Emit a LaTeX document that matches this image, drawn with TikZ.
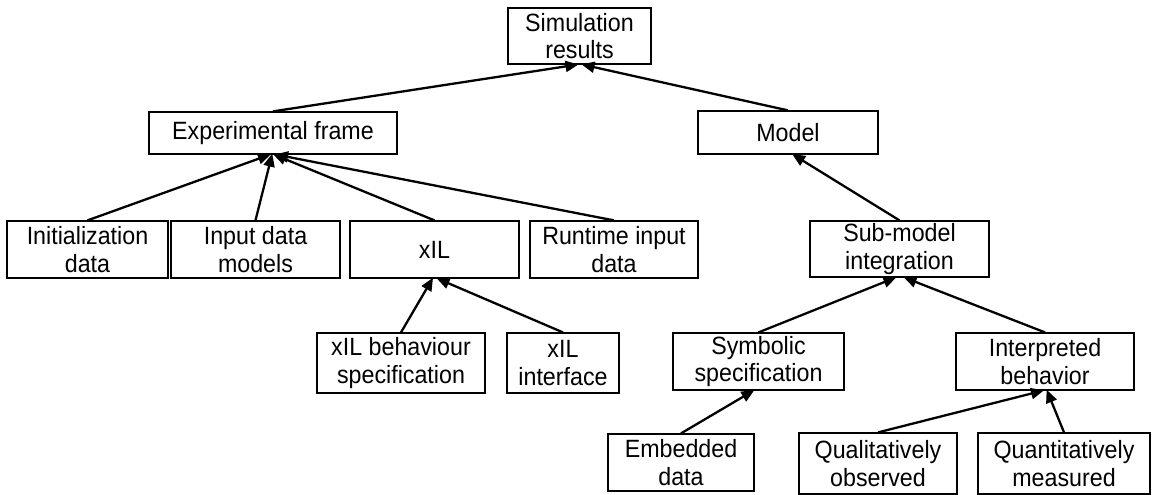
\documentclass[tikz,border=0pt]{standalone}
\usepackage{fontspec}
\setmainfont{Liberation Sans}[FakeStretch=0.93]
\usetikzlibrary{arrows.meta}
\tikzset{
  box/.style={draw=black, line width=1.2pt, inner sep=0pt, align=center,
    font=\fontsize{25}{27.5}\selectfont, anchor=center},
  arr/.style={draw=black, line width=2.3pt, -{Triangle[length=13pt,width=11pt]}, shorten >=-1pt}
}
\begin{document}
\begin{tikzpicture}[x=1pt,y=-1pt]
\useasboundingbox (0,0) rectangle (1154,495);
% level 0
\node[box, minimum width=143pt, minimum height=56pt] (sim) at (579.5,36) {Simulation\\results};
% level 1
\node[box, minimum width=248pt, minimum height=42pt] (exp) at (273,133) {Experimental frame};
\node[box, minimum width=180pt, minimum height=43pt] (model) at (788,132.5) {Model};
% level 2
\node[box, minimum width=161pt, minimum height=57pt] (init) at (87.5,249.5) {Initialization\\data};
\node[box, minimum width=169pt, minimum height=57pt] (input) at (255.5,249.5) {Input data\\models};
\node[box, minimum width=169pt, minimum height=57pt] (xil) at (434.5,249.5) {xIL};
\node[box, minimum width=168pt, minimum height=57pt] (runtime) at (614,249.5) {Runtime input\\data};
\node[box, minimum width=179pt, minimum height=56pt] (sub) at (899.5,249) {Sub-model\\integration};
% level 3
\node[box, minimum width=168pt, minimum height=60pt] (xilbeh) at (401,363) {xIL behaviour\\specification};
\node[box, minimum width=112pt, minimum height=60pt] (xilif) at (563,363) {xIL\\interface};
\node[box, minimum width=171pt, minimum height=57pt] (sym) at (758.5,361.5) {Symbolic\\specification};
\node[box, minimum width=178pt, minimum height=57pt] (interp) at (1045,361.5) {Interpreted\\behavior};
% level 4
\node[box, minimum width=146pt, minimum height=57pt] (emb) at (681,462.5) {Embedded\\data};
\node[box, minimum width=158pt, minimum height=61pt] (qual) at (878,463.5) {Qualitatively\\observed};
\node[box, minimum width=172pt, minimum height=61pt] (quant) at (1064,463.5) {Quantitatively\\measured};
% connectors
\draw[arr] (exp.north) -- ([xshift=-2pt]sim.south);
\draw[arr] (model.north) -- ([xshift=3pt]sim.south);
\draw[arr] (init.north) -- ([xshift=-3pt]exp.south);
\draw[arr] (input.north) -- ([xshift=-1pt]exp.south);
\draw[arr] (xil.north) -- ([xshift=1pt]exp.south);
\draw[arr] (runtime.north) -- ([xshift=3pt]exp.south);
\draw[arr] (sub.north) -- ([xshift=5pt]model.south);
\draw[arr] (xilbeh.north) -- ([xshift=-2pt]xil.south);
\draw[arr] (xilif.north) -- ([xshift=3pt]xil.south);
\draw[arr] (sym.north) -- ([xshift=-4pt]sub.south);
\draw[arr] (interp.north) -- ([xshift=5pt]sub.south);
\draw[arr] (emb.north) -- ([xshift=-5pt]sym.south);
\draw[arr] (qual.north) -- ([xshift=-2pt]interp.south);
\draw[arr] (quant.north) -- ([xshift=2pt]interp.south);
\end{tikzpicture}
\end{document}
